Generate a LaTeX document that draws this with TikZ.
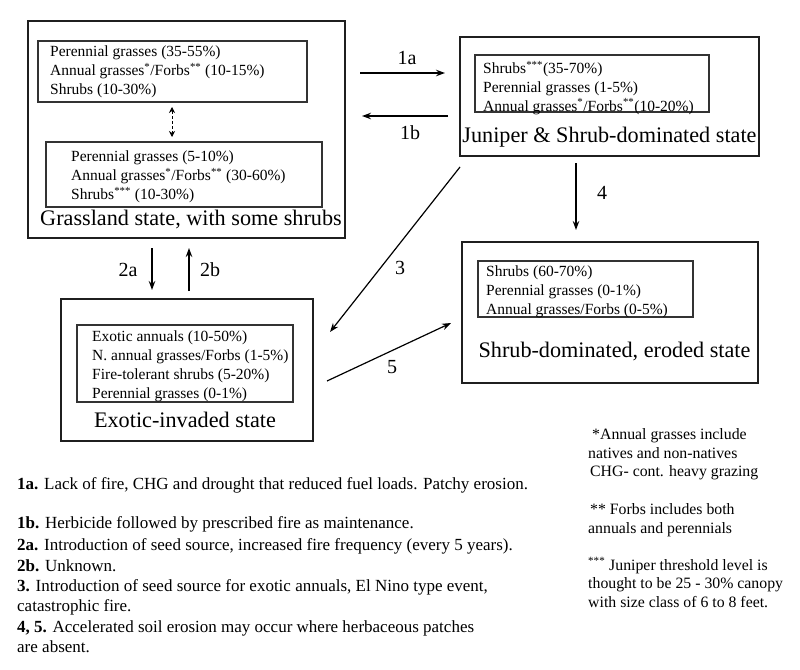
\documentclass[tikz,border=0pt]{standalone}
\usepackage{fontspec}
\setmainfont{Liberation Serif}
\usetikzlibrary{arrows.meta}
\begin{document}
\begin{tikzpicture}[x=1pt,y=-1pt,
  outerbox/.style={draw=black!88, line width=2.6pt, inner sep=0pt},
  innerbox/.style={draw=black!80, line width=1.1pt, inner sep=0pt},
  boxtxt/.style={anchor=north west, inner sep=0pt, align=left, font=\fontsize{15.5}{18.8}\selectfont},
  statelbl/.style={inner sep=0pt, font=\fontsize{22.2}{25}\selectfont},
  arrlbl/.style={inner sep=0pt, font=\fontsize{20}{24}\selectfont},
  conn/.style={line width=1.2pt, -{Stealth[length=9pt,width=6.5pt]}},
  dconn/.style={line width=0.8pt, dashed, dash pattern=on 3pt off 2pt, {Stealth[length=6pt,width=6pt]}-{Stealth[length=6pt,width=6pt]}},
  notetxt/.style={anchor=base west, inner sep=0pt, font=\fontsize{17}{20}\selectfont},
  fntxt/.style={anchor=base west, inner sep=0pt, font=\fontsize{15.8}{19}\selectfont},
]
\useasboundingbox[fill=white] (0,0) rectangle (800,669);

% Grassland state
\node[outerbox, minimum width=317pt, minimum height=217pt] (grass) at (186.5,129.5) {};
\node[innerbox, minimum width=269pt, minimum height=61pt] (g1) at (172.5,71.5) {};
\node[innerbox, minimum width=276pt, minimum height=65pt] (g2) at (184,174.5) {};
\node[boxtxt] (g1t) at (50,46) {Perennial grasses (35-55\%)\\Annual grasses\textsuperscript{*}/Forbs\textsuperscript{**} (10-15\%)\\Shrubs (10-30\%)};
\node[boxtxt] (g2t) at (71,151) {Perennial grasses (5-10\%)\\Annual grasses\textsuperscript{*}/Forbs\textsuperscript{**} (30-60\%)\\Shrubs\textsuperscript{***} (10-30\%)};
\node[statelbl] (grassl) at (191,220) {Grassland state, with some shrubs};

% Juniper state
\node[outerbox, minimum width=299pt, minimum height=119pt] (jun) at (609.5,96.5) {};
\node[innerbox, minimum width=234pt, minimum height=57pt] (j1) at (592,83.5) {};
\node[boxtxt] (j1t) at (483,61) {Shrubs\textsuperscript{***}(35-70\%)\\Perennial grasses (1-5\%)\\Annual grasses\textsuperscript{*}/Forbs\textsuperscript{**}(10-20\%)};
\node[statelbl] (junl) at (609.5,137) {Juniper \& Shrub-dominated state};

% Shrub-dominated eroded state
\node[outerbox, minimum width=296pt, minimum height=141pt] (ero) at (610,312.5) {};
\node[innerbox, minimum width=215pt, minimum height=56pt] (e1) at (585.5,289) {};
\node[boxtxt] (e1t) at (486,266) {Shrubs (60-70\%)\\Perennial grasses (0-1\%)\\Annual grasses/Forbs (0-5\%)};
\node[statelbl] (erol) at (614.5,352) {Shrub-dominated, eroded state};

% Exotic-invaded state
\node[outerbox, minimum width=252pt, minimum height=142pt] (exo) at (187,370) {};
\node[innerbox, minimum width=216pt, minimum height=77pt] (x1) at (185,363.5) {};
\node[boxtxt] (x1t) at (92,331) {Exotic annuals (10-50\%)\\N. annual grasses/Forbs (1-5\%)\\Fire-tolerant shrubs (5-20\%)\\Perennial grasses (0-1\%)};
\node[statelbl] (exol) at (185,420) {Exotic-invaded state};

% connector end points
\coordinate (a1s) at (360,73);  \coordinate (a1e) at (445,73);
\coordinate (b1s) at (448,116); \coordinate (b1e) at (362,116);
\coordinate (c4s) at (576,163); \coordinate (c4e) at (576,230);
\coordinate (c3s) at (460,167); \coordinate (c3e) at (330,332);
\coordinate (c5s) at (327,381); \coordinate (c5e) at (451,323);
\coordinate (c2as) at (152,248); \coordinate (c2ae) at (152,290);
\coordinate (c2bs) at (189,291); \coordinate (c2be) at (189,248);
\coordinate (ds) at (172,107); \coordinate (de) at (172,137);

\draw[conn] (a1s) -- (a1e);
\draw[conn] (b1s) -- (b1e);
\draw[conn] (c4s) -- (c4e);
\draw[conn] (c3s) -- (c3e);
\draw[conn] (c5s) -- (c5e);
\draw[conn] (c2as) -- (c2ae);
\draw[conn] (c2bs) -- (c2be);
\draw[dconn] (ds) -- (de);

\node[arrlbl] (l1a) at (407,58) {1a};
\node[arrlbl] (l1b) at (410,133) {1b};
\node[arrlbl] (l4) at (602,193) {4};
\node[arrlbl] (l3) at (400,268) {3};
\node[arrlbl] (l5) at (392,367) {5};
\node[arrlbl] (l2a) at (128,270) {2a};
\node[arrlbl] (l2b) at (210,270) {2b};

% notes
\node[notetxt] (n1a) at (17,489) {\textbf{1a.} Lack of fire, CHG and drought that reduced fuel loads. Patchy erosion.};
\node[notetxt] (n1b) at (17,528.5) {\textbf{1b.} Herbicide followed by prescribed fire as maintenance.};
\node[notetxt] (n2a) at (17,550.5) {\textbf{2a.} Introduction of seed source, increased fire frequency (every 5 years).};
\node[notetxt] (n2b) at (17,571) {\textbf{2b.} Unknown.};
\node[notetxt] (n3) at (17,591.5) {\textbf{3.} Introduction of seed source for exotic annuals, El Nino type event,};
\node[notetxt] (n3b) at (17,611) {catastrophic fire.};
\node[notetxt] (n45) at (17,632) {\textbf{4, 5.} Accelerated soil erosion may occur where herbaceous patches};
\node[notetxt] (n45b) at (17,652.5) {are absent.};

% footnotes
\node[fntxt] (f1) at (592,439) {*Annual grasses include};
\node[fntxt] (f2) at (588,458) {natives and non-natives};
\node[fntxt] (f3) at (590,476) {CHG- cont. heavy grazing};
\node[fntxt] (f4) at (590,514) {** Forbs includes both};
\node[fntxt] (f5) at (588,533) {annuals and perennials};
\node[fntxt] (f6) at (588,570) {\textsuperscript{***} Juniper threshold level is};
\node[fntxt] (f7) at (588,588.5) {thought to be 25 - 30\% canopy};
\node[fntxt] (f8) at (588,607) {with size class of 6 to 8 feet.};
\end{tikzpicture}
\end{document}
